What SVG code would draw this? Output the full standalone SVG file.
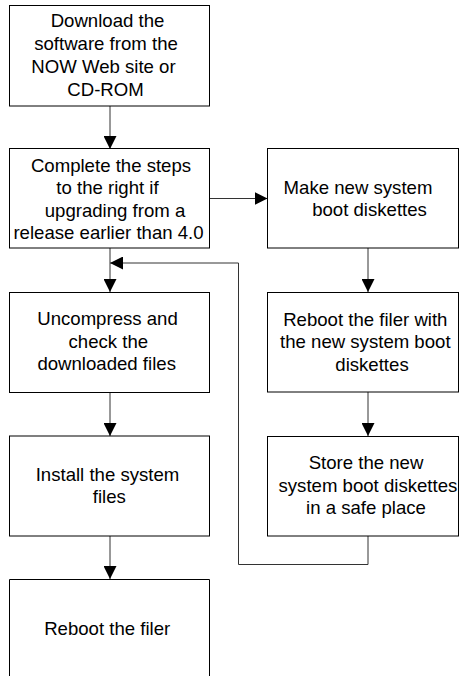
<svg xmlns="http://www.w3.org/2000/svg" width="459" height="676" viewBox="0 0 459 676">
<style>
.box{fill:#fff;stroke:#000;stroke-width:1}
.t{font-family:"Liberation Sans",Arial,sans-serif;font-size:18.6px;fill:#000;text-anchor:middle}
.c{fill:none;stroke:#333;stroke-width:1}
</style>
<defs>
<marker id="ah" markerWidth="13" markerHeight="13" refX="13" refY="6.5" orient="auto" markerUnits="userSpaceOnUse"><path d="M0,0 L13,6.5 L0,13 Z" fill="#000"/></marker>
</defs>
<rect width="459" height="676" fill="#fff"/>
<g id="connectors">
<path class="c" d="M110,106 V149" marker-end="url(#ah)"/>
<path class="c" d="M210,198.5 H267.5" marker-end="url(#ah)"/>
<path class="c" d="M368,248 V292" marker-end="url(#ah)"/>
<path class="c" d="M368,392 V436" marker-end="url(#ah)"/>
<path class="c" d="M368,536 V564.5 H238.5 V263 H110" marker-end="url(#ah)"/>
<path class="c" d="M110,248 V292" marker-end="url(#ah)"/>
<path class="c" d="M110,393 V436" marker-end="url(#ah)"/>
<path class="c" d="M110,536 V579" marker-end="url(#ah)"/>
</g>
<g id="n1">
<rect class="box" x="9.5" y="5.5" width="200" height="100.5"/>
<text class="t" x="107.5" y="26.7">Download the</text>
<text class="t" x="106" y="49.5">software from the</text>
<text class="t" x="103.5" y="72.5">NOW Web site or</text>
<text class="t" x="105.5" y="95.7">CD-ROM</text>
</g>
<g id="n2">
<rect class="box" x="9.5" y="148.5" width="200" height="99.5"/>
<text class="t" x="111" y="171.5">Complete the steps</text>
<text class="t" x="107.5" y="194">to the right if</text>
<text class="t" x="115" y="216.5">upgrading from a</text>
<text class="t" x="108.5" y="239">release earlier than 4.0</text>
</g>
<g id="n3">
<rect class="box" x="267.5" y="148.5" width="191" height="99.5"/>
<text class="t" x="358" y="193.5">Make new system</text>
<text class="t" x="369.5" y="216">boot diskettes</text>
</g>
<g id="n4">
<rect class="box" x="267.5" y="292.5" width="191" height="99.5"/>
<text class="t" x="365.3" y="325.7">Reboot the filer with</text>
<text class="t" x="365.3" y="348.3">the new system boot</text>
<text class="t" x="372" y="371">diskettes</text>
</g>
<g id="n5">
<rect class="box" x="267.5" y="436.5" width="191" height="99.5"/>
<text class="t" x="366" y="469.3">Store the new</text>
<text class="t" x="278.5" y="491.7" style="text-anchor:start">system boot diskettes</text>
<text class="t" x="366" y="514">in a safe place</text>
</g>
<g id="n6">
<rect class="box" x="9.5" y="292.5" width="200" height="100"/>
<text class="t" x="107.5" y="325">Uncompress and</text>
<text class="t" x="108.3" y="347.7">check the</text>
<text class="t" x="106.7" y="370">downloaded files</text>
</g>
<g id="n7">
<rect class="box" x="9.5" y="436" width="200" height="100"/>
<text class="t" x="107.5" y="480.7">Install the system</text>
<text class="t" x="109.3" y="502.7">files</text>
</g>
<g id="n8">
<path class="box" d="M9.5,690 V579.5 H209.5 V690"/>
<text class="t" x="107.2" y="635">Reboot the filer</text>
</g>
</svg>
